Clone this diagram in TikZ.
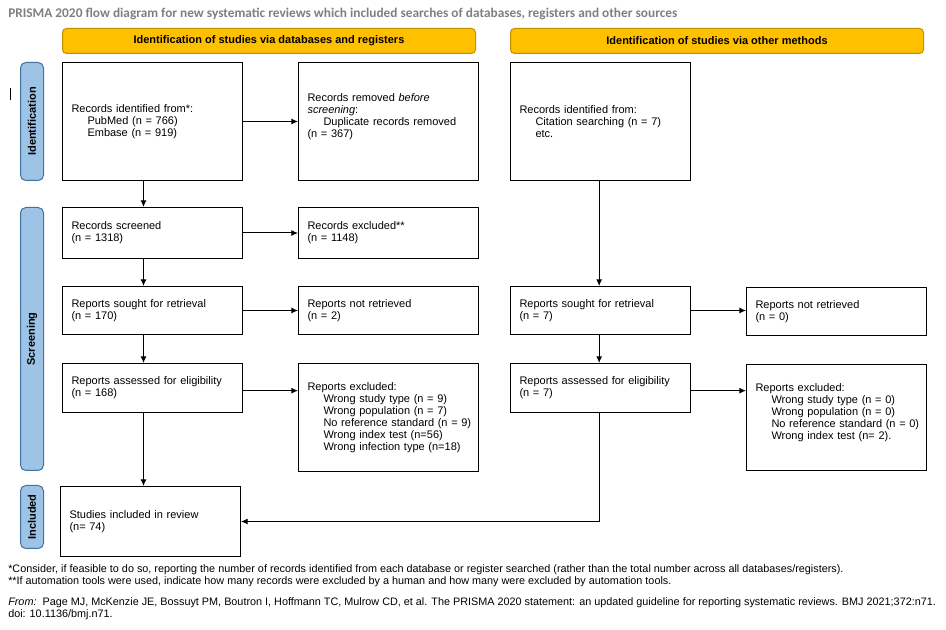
\documentclass[tikz,border=0pt]{standalone}
\usepackage{fontspec}
\setmainfont{Liberation Sans}
\newfontfamily\titlefont{Carlito}
\usetikzlibrary{arrows.meta}
\definecolor{hdr}{HTML}{FFC000}
\definecolor{hdrline}{HTML}{BF9000}
\definecolor{side}{HTML}{9DC3E6}
\definecolor{sideline}{HTML}{41719C}
\definecolor{titlegray}{HTML}{7F7F7F}
\newcommand{\ind}[1]{\mbox{\hspace*{12pt}#1}}
\begin{document}
\begin{tikzpicture}[x=0.75pt,y=-0.75pt,
  font=\fontsize{8.25pt}{9pt}\selectfont,
  box/.style={draw, line width=0.75pt, anchor=north west, inner xsep=6.75pt, inner ysep=0pt,
    text width=121.5pt, align=left, minimum height=#1},
  hdrbox/.style={draw=hdrline, fill=hdr, line width=0.75pt, rounded corners=3pt, anchor=north west,
    minimum width=309.75pt, minimum height=18.75pt, inner sep=0pt, font=\fontsize{8.25pt}{9pt}\selectfont\bfseries},
  sidebox/.style={draw=sideline, fill=side, line width=0.75pt, rounded corners=4pt, anchor=north west,
    minimum width=17.25pt, minimum height=#1, inner sep=0pt},
  sidetext/.style={rotate=90, font=\fontsize{8.25pt}{9pt}\selectfont\bfseries},
  arr/.style={-{Latex[length=5pt,width=4.5pt]}, line width=0.75pt},
  foot/.style={anchor=west, inner sep=0pt, font=\fontsize{8.12pt}{9pt}\selectfont}]
\useasboundingbox (0,0) rectangle (946,630);

% title
\node[anchor=west, inner sep=0pt, text=titlegray, font=\titlefont\bfseries\fontsize{10pt}{12pt}\selectfont] (title) at (8,14)
  {PRISMA 2020 flow diagram for new systematic reviews which included searches of databases, registers and other sources};

% headers
\node[hdrbox] (h1) at (62,28) {Identification of studies via databases and registers};
\node[hdrbox] (h2) at (510,28) {Identification of studies via other methods};

% side labels
\node[sidebox=88.5pt] (s1) at (20,62) {};
\node[sidetext] (s1t) at (s1.center) {Identification};
\node[sidebox=197.25pt] (s2) at (20,207) {};
\node[sidetext] (s2t) at (s2.center) {Screening};
\node[sidebox=47.25pt] (s3) at (20,485) {};
\node[sidetext] (s3t) at (s3.center) {Included};
\draw[line width=0.75pt] (10,88) coordinate (m1) -- (10,100) coordinate (m2);

% boxes
\node[box=88.5pt] (A) at (62,62) {Records identified from*:\\\ind{PubMed (n = 766)}\\\ind{Embase (n = 919)}};
\node[box=88.5pt] (B) at (298,62) {Records removed \textit{before}\\\textit{screening}:\\\ind{Duplicate records removed}\\(n = 367)\\~};
\node[box=88.5pt] (C) at (510,62) {Records identified from:\\\ind{Citation searching (n = 7)}\\\ind{etc.}};

\node[box=38.25pt] (D) at (62,207) {Records screened\\(n = 1318)};
\node[box=38.25pt] (E) at (298,207) {Records excluded**\\(n = 1148)};

\node[box=36pt] (F) at (62,286) {Reports sought for retrieval\\(n = 170)};
\node[box=36pt] (G) at (298,286) {Reports not retrieved\\(n = 2)};
\node[box=36pt] (H) at (510,286) {Reports sought for retrieval\\(n = 7)};
\node[box=36pt] (I) at (746,287) {Reports not retrieved\\(n = 0)};

\node[box=36.75pt] (J) at (62,363) {Reports assessed for eligibility\\(n = 168)};
\node[box=81pt] (K) at (298,363) {Reports excluded:\\\ind{Wrong study type (n = 9)}\\\ind{Wrong population (n = 7)}\\\ind{No reference standard (n = 9)}\\\ind{Wrong index test (n=56)}\\\ind{Wrong infection type (n=18)}};
\node[box=36.75pt] (L) at (510,363) {Reports assessed for eligibility\\(n = 7)};
\node[box=79.5pt] (M) at (746,364) {Reports excluded:\\\ind{Wrong study type (n = 0)}\\\ind{Wrong population (n = 0)}\\\ind{No reference standard (n = 0)}\\\ind{Wrong index test (n= 2).}\\~};

\node[box=52.5pt] (N) at (60,486) {Studies included in review\\(n= 74)};

% connectors
\draw[arr] (A.east) -- (B.west);
\draw[arr] (D.east) -- (E.west);
\draw[arr] (F.east) -- (G.west);
\draw[arr] ([yshift=-2pt]J.east) -- ([yshift=-2pt]J.east -| K.west);
\draw[arr] (H.east) -- (H.east -| I.west);
\draw[arr] ([yshift=-2pt]L.east) -- ([yshift=-2pt]L.east -| M.west);

\draw[arr] ([xshift=-6.75pt]A.south) -- ([xshift=-6.75pt]A.south |- D.north);
\draw[arr] ([xshift=-6.75pt]D.south) -- ([xshift=-6.75pt]D.south |- F.north);
\draw[arr] ([xshift=-6.75pt]F.south) -- ([xshift=-6.75pt]F.south |- J.north);
\draw[arr] ([xshift=-6.75pt]J.south) -- ([xshift=-6.75pt]J.south |- N.north);
\draw[arr] ([xshift=-1pt]C.south) -- ([xshift=-1pt]C.south |- H.north);
\draw[arr] ([xshift=-1pt]H.south) -- ([xshift=-1pt]H.south |- L.north);
\draw[arr] ([xshift=-1pt]L.south) |- (N.east);

% footnotes
\node[foot] (f1) at (8,570) {*Consider, if feasible to do so, reporting the number of records identified from each database or register searched (rather than the total number across all databases/registers).};
\node[foot] (f2) at (8,582) {**If automation tools were used, indicate how many records were excluded by a human and how many were excluded by automation tools.};
\node[foot] (f3) at (8,603) {\textit{From:}\ \ Page MJ, McKenzie JE, Bossuyt PM, Boutron I, Hoffmann TC, Mulrow CD, et al. The PRISMA 2020 statement: an updated guideline for reporting systematic reviews. BMJ 2021;372:n71.};
\node[foot] (f4) at (8,615) {doi: 10.1136/bmj.n71.};
\end{tikzpicture}
\end{document}
